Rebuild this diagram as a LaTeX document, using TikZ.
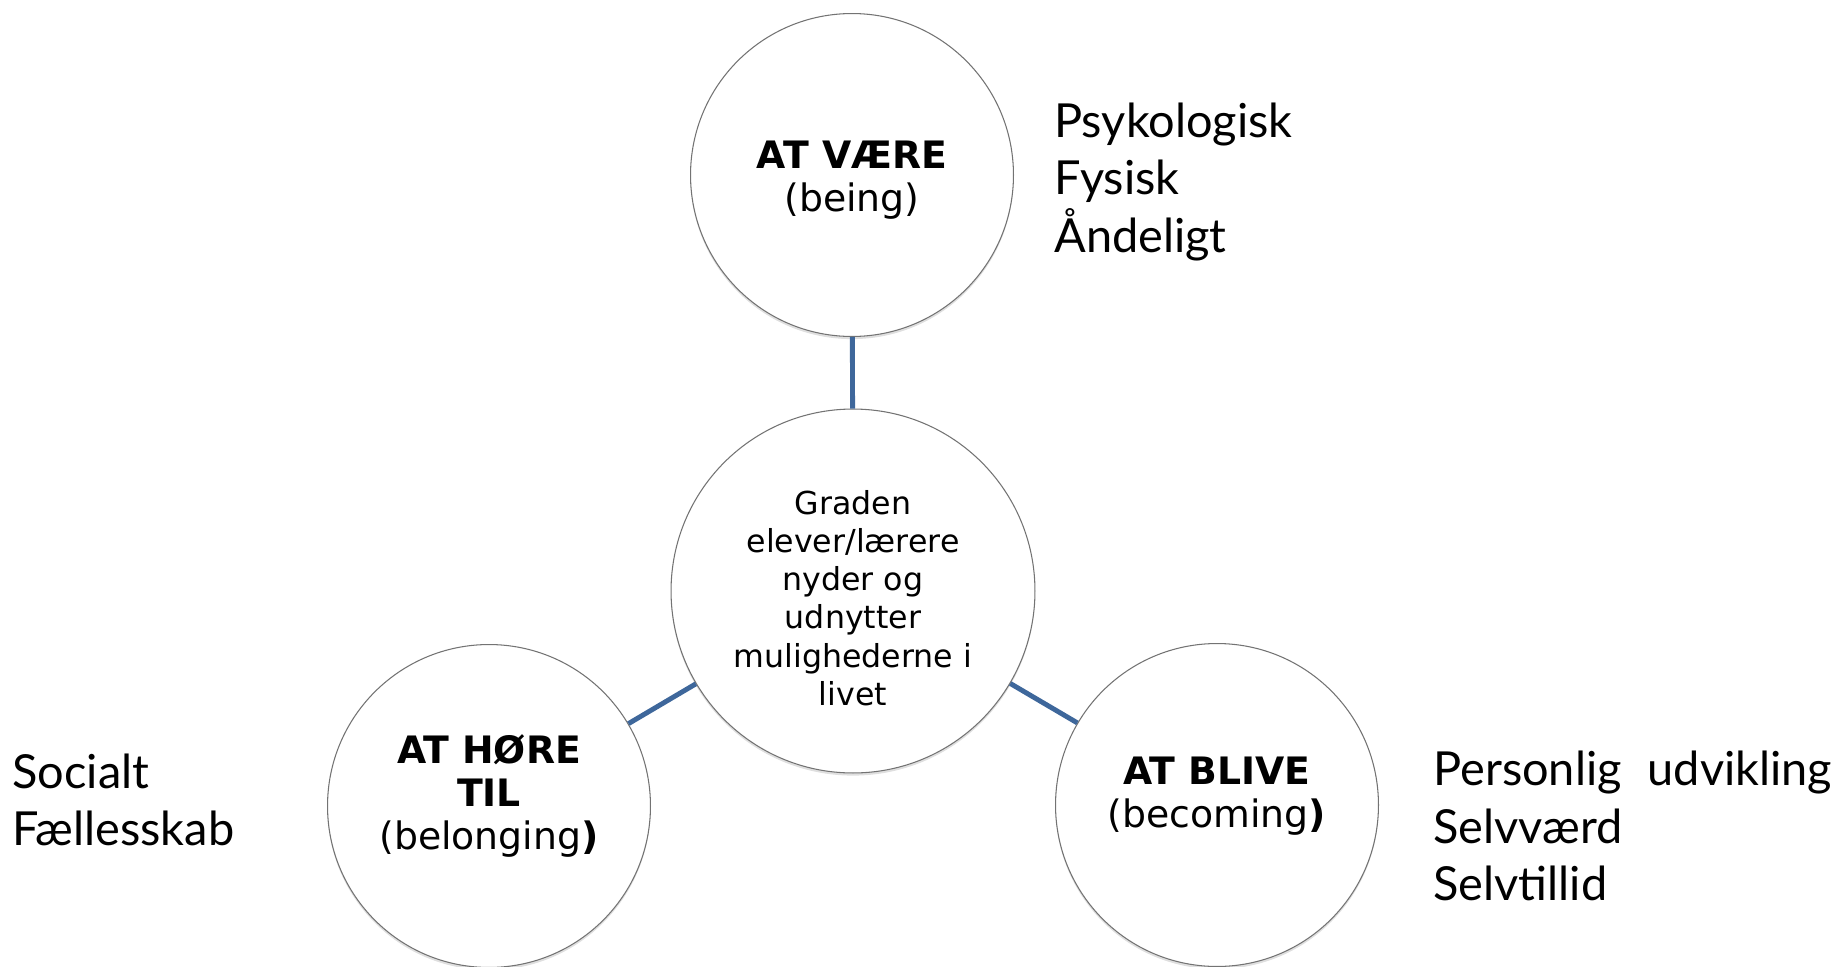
\documentclass[tikz,border=0pt]{standalone}
\usepackage{fontspec}
\setmainfont{DejaVu Sans}
\newfontfamily\sidefont{Lato}
\usetikzlibrary{shadows}
\definecolor{linkblue}{HTML}{3E679B}

\begin{document}
\begin{tikzpicture}[x=0.02cm,y=-0.02cm,line join=round,
	ring/.style={circle,draw=black!55,line width=0.6pt,fill=white,minimum size=6.46cm,inner sep=0pt,
		drop shadow={shadow xshift=0pt,shadow yshift=-1.5pt,opacity=0.25}},
	hub/.style={ring,minimum size=7.28cm},
	ringtxt/.style={inner sep=0pt,align=center,font=\fontsize{21.5}{24.5}\selectfont},
	hubtxt/.style={inner sep=0pt,align=center,font=\fontsize{18}{21.8}\selectfont},
	link/.style={draw=linkblue,line width=2.8pt},
	side/.style={anchor=west,inner sep=0pt,align=left,font=\sidefont\fontsize{26.7}{32.7}\selectfont}]
	\useasboundingbox (0,0) rectangle (1843,967);
	
	\node[hub] (hub) at (853,591) {};
	\node[ring] (being) at (852,175) {};
	\node[ring] (belong) at (489,806) {};
	\node[ring] (become) at (1217,805) {};
	
	\draw[link] (hub) -- (being);
	\draw[link] (hub) -- (belong);
	\draw[link] (hub) -- (become);
	
	\node[hubtxt] (hubtxt) at (853,598) {Graden\\elever/lærere\\nyder og\\udnytter\\mulighederne i\\livet};
	\node[ringtxt] (beingtxt) at (852,180) {\textbf{AT VÆRE}\\(being)};
	\node[ringtxt] (belongtxt) at (489,796) {\textbf{AT HØRE}\\\textbf{TIL}\\(belonging\textbf{)}};
	\node[ringtxt] (becometxt) at (1217,796) {\textbf{AT BLIVE}\\(becoming\textbf{)}};
	
	% tekst ved siden af
	\node[side] (beinglist) at (1054,182) {Psykologisk\\Fysisk\\Åndeligt};
	\node[side] (belonglist) at (12,800) {Socialt\\Fællesskab};
	\node[side] (becomelist) at (1433,826) {Personlig\hspace{.55em}udvikling\\Selvværd\\Selvtillid};
\end{tikzpicture}
\end{document}
